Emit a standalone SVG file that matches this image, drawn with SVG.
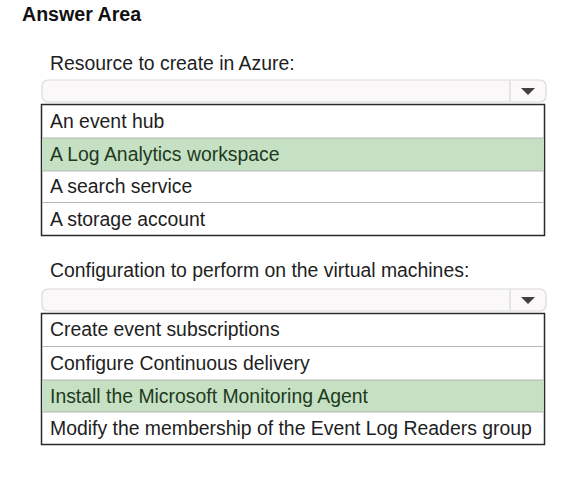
<svg xmlns="http://www.w3.org/2000/svg" width="585" height="478" viewBox="0 0 585 478">
<style>
text{font-family:"Liberation Sans",Arial,sans-serif;font-size:19.4px;fill:#1e1e1e}
.title{font-weight:bold;fill:#111;font-size:19.6px}
.sel{fill:#213a21}
.dd{fill:#fbf8f9;stroke:#dadada;stroke-width:1.2}
.div{stroke:#d8d8d8;stroke-width:1.2}
.tri{fill:#404040}
.list{fill:#fff;stroke:#2a2a2a;stroke-width:1.5}
.green{fill:#c5e0c3}
.sep{stroke:#b8b8b8;stroke-width:1.2}
</style>
<rect width="585" height="478" fill="#fff"/>
<text class="title" x="22" y="21">Answer Area</text>

<g id="resource">
<text x="50" y="70">Resource to create in Azure:</text>
<rect class="dd" x="42" y="80" width="504" height="22" rx="6"/>
<line class="div" x1="510" y1="81" x2="510" y2="101"/>
<polygon class="tri" points="521,88 535,88 528,95"/>
<rect class="list" x="41.5" y="104.5" width="503" height="131"/>
<rect class="green" x="42.3" y="138" width="501.4" height="33"/>
<line class="sep" x1="42" y1="138" x2="544" y2="138"/>
<line class="sep" x1="42" y1="171" x2="544" y2="171"/>
<line class="sep" x1="42" y1="202.5" x2="544" y2="202.5"/>
<text x="50" y="128">An event hub</text>
<text class="sel" x="50" y="161">A Log Analytics workspace</text>
<text x="50" y="193">A search service</text>
<text x="50" y="226">A storage account</text>
</g>

<g id="configuration">
<text x="50" y="277">Configuration to perform on the virtual machines:</text>
<rect class="dd" x="42" y="289" width="504" height="22" rx="6"/>
<line class="div" x1="510" y1="290" x2="510" y2="310"/>
<polygon class="tri" points="521,297 535,297 528,304"/>
<rect class="list" x="41.5" y="313.5" width="503" height="131"/>
<rect class="green" x="42.3" y="380" width="501.4" height="32"/>
<line class="sep" x1="42" y1="346.5" x2="544" y2="346.5"/>
<line class="sep" x1="42" y1="380" x2="544" y2="380"/>
<line class="sep" x1="42" y1="412" x2="544" y2="412"/>
<text x="50" y="336">Create event subscriptions</text>
<text x="50" y="370">Configure Continuous delivery</text>
<text class="sel" x="50" y="403">Install the Microsoft Monitoring Agent</text>
<text x="50" y="435">Modify the membership of the Event Log Readers group</text>
</g>
<g id="connectors"/>
</svg>
